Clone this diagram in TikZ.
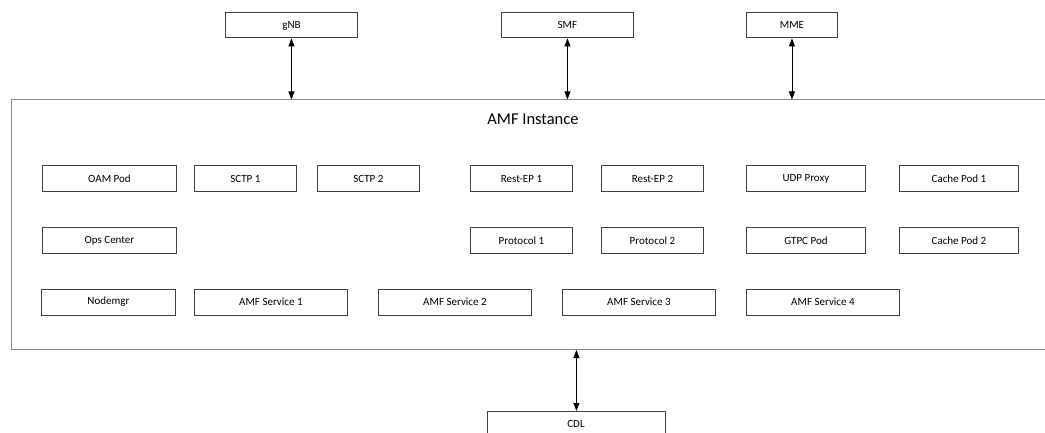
\documentclass[tikz,border=0pt]{standalone}
\usepackage{fontspec}
\setmainfont{Carlito}
\usetikzlibrary{arrows.meta}
\tikzset{
  box/.style={draw={rgb,255:red,64;green,64;blue,64}, line width=0.9pt, fill=white, inner sep=0pt, font=\fontsize{11}{13}\selectfont, anchor=north west},
  frame/.style={draw={rgb,255:red,140;green,140;blue,140}, line width=1pt, inner sep=0pt, anchor=north west},
  link/.style={line width=0.8pt, {Triangle[length=8pt,width=6pt]}-{Triangle[length=8pt,width=6pt]}},
  title/.style={font=\fontsize{16.5}{19}\selectfont, inner sep=0pt}
}
\newcommand\bx[6]{\node[box, minimum width=#4pt, minimum height=#5pt] (#1) at (#2,#3) {#6};}
\begin{document}
\begin{tikzpicture}[x=1pt,y=-1pt]
\useasboundingbox (0,0) rectangle (1045,433);
\clip (0,0) rectangle (1045,433);
\node[frame, minimum width=1060pt, minimum height=249.5pt] (amf) at (10.5,99.5) {};
\node[title] (ttl) at (533,119) {AMF Instance};
\bx{gnb}{225}{12.5}{132}{25}{gNB}
\bx{smf}{501}{12.5}{132}{25}{SMF}
\bx{mme}{746}{12.5}{91}{25}{MME}
\bx{oam}{42}{165.5}{134}{26}{OAM Pod}
\bx{sctp1}{194}{165.5}{102}{26}{SCTP 1}
\bx{sctp2}{317}{165.5}{102}{26}{SCTP 2}
\bx{rest1}{470}{165.5}{102}{26}{Rest-EP 1}
\bx{rest2}{601}{165.5}{102}{26}{Rest-EP 2}
\bx{udp}{746}{165.5}{119}{26}{UDP Proxy}
\bx{cache1}{899}{165.5}{119}{26}{Cache Pod 1}
\bx{ops}{42}{227}{134}{26}{Ops Center}
\bx{proto1}{470}{227}{102}{26}{Protocol 1}
\bx{proto2}{601}{227}{102}{26}{Protocol 2}
\bx{gtpc}{746}{227}{119}{26}{GTPC Pod}
\bx{cache2}{899}{227}{119}{26}{Cache Pod 2}
\bx{nodemgr}{41}{288.5}{134}{26}{Nodemgr}
\bx{svc1}{194}{288.5}{153}{26}{AMF Service 1}
\bx{svc2}{378}{288.5}{153}{26}{AMF Service 2}
\bx{svc3}{562}{288.5}{153}{26}{AMF Service 3}
\bx{svc4}{746}{288.5}{153}{26}{AMF Service 4}
\node[box, minimum width=178pt, minimum height=40pt, anchor=north west, text depth=0pt, text height=0pt] (cdl) at (487,411) {};
\node[font=\fontsize{11}{13}\selectfont, inner sep=0pt] (cdltxt) at (576,424) {CDL};
\draw[link] (gnb.south) -- (gnb.south |- amf.north);
\draw[link] (smf.south) -- (smf.south |- amf.north);
\draw[link] (mme.south) -- (mme.south |- amf.north);
\draw[link] (cdl.north |- amf.south) -- (cdl.north);
\end{tikzpicture}
\end{document}
